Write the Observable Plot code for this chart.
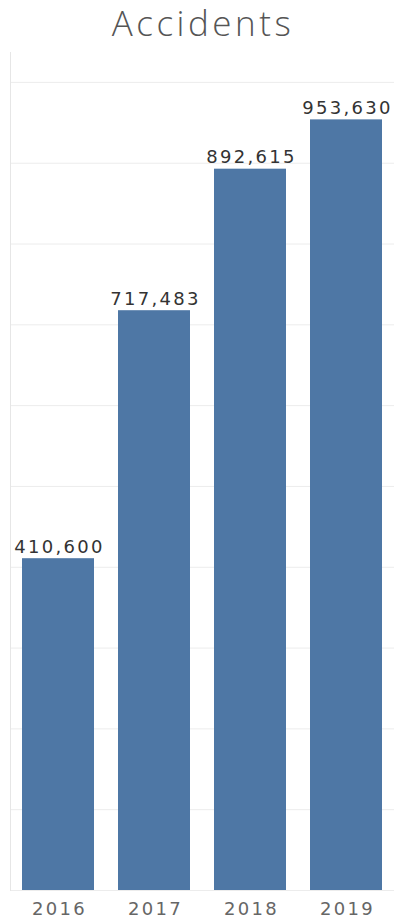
<!DOCTYPE html>
<html>
<head>
<meta charset="utf-8">
<script src="https://cdn.jsdelivr.net/npm/d3@7"></script>
<script src="https://cdn.jsdelivr.net/npm/@observablehq/plot@0.6"></script>
<style>
  html, body { margin: 0; padding: 0; background: #fff; }
  #title { height: 48px; width: 394px; text-align: center; font-family: "Open Sans", sans-serif; font-weight: 300; font-size: 35px; letter-spacing: 3.5px; color: #555; line-height: 46px; padding-left: 12px; box-sizing: border-box; overflow: hidden; }
</style>
</head>
<body>
<div id="title">Accidents</div>
<div id="chart"></div>
<script>
const years = ["2016", "2017", "2018", "2019"];
const accidents = [410600, 717483, 892615, 953630];
const gridTicks = [0, 100000, 200000, 300000, 400000, 500000, 600000, 700000, 800000, 900000, 1000000];

const data = years.map((y, i) => ({year: y, value: accidents[i]}));
const fmt = d3.format(",");

const chart = Plot.plot({
  width: 394,
  height: 872,
  marginTop: 4,
  marginBottom: 30,
  marginLeft: 10,
  marginRight: 0,
  style: {fontFamily: "DejaVu Sans, sans-serif", background: "#fff"},
  x: {domain: years, paddingInner: 0.25, paddingOuter: 0.125, label: null},
  y: {domain: [0, 1037000], axis: null},
  marks: [
    Plot.ruleY(gridTicks, {stroke: "#ececec", strokeWidth: 1}),
    Plot.frame({anchor: "left", stroke: "#e6e6e6"}),
    Plot.barY(data, {x: "year", y: "value", fill: "#4e77a5"}),
    Plot.text(data, {x: "year", y: "value", text: d => fmt(d.value), lineAnchor: "bottom", dy: -6, fontSize: 18, fill: "#333", dx: 1}),
    Plot.axisX({tickSize: 0, tickPadding: 12, fontSize: 18, fill: "#666", dx: 1})
  ]
});
d3.select(chart).selectAll("text").style("letter-spacing", "2.3px");
document.getElementById("chart").appendChild(chart);
</script>
</body>
</html>
